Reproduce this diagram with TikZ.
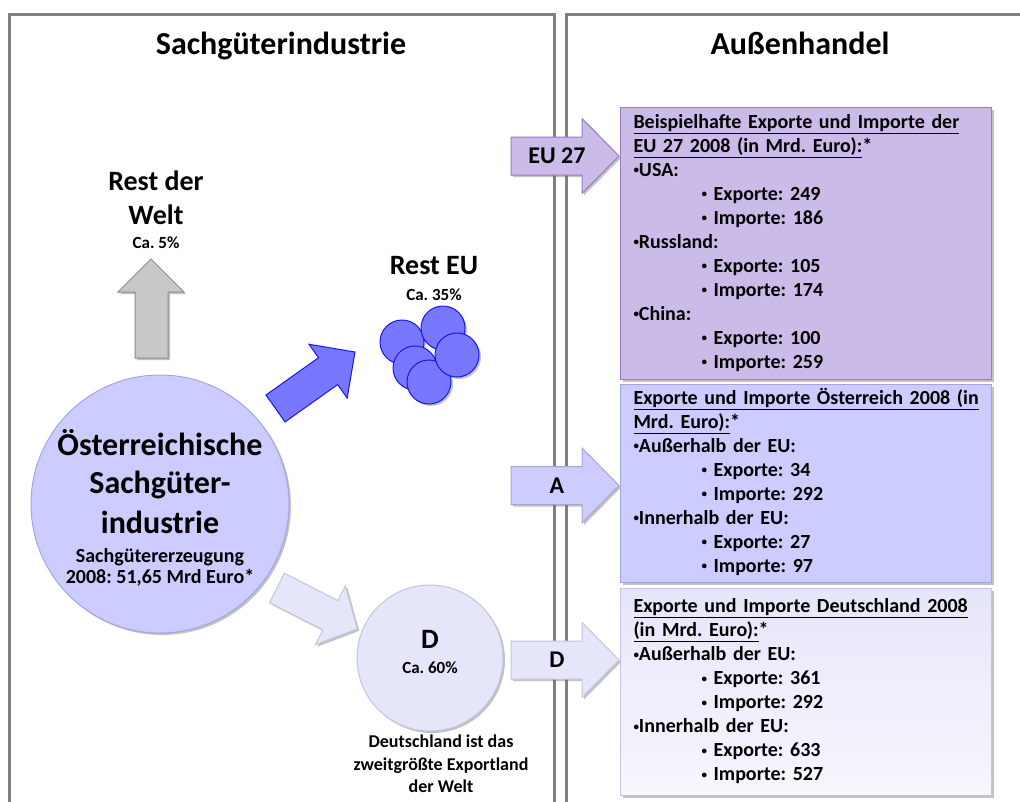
\documentclass[tikz,border=0pt]{standalone}
\usepackage{fontspec}
\usepackage{graphicx}
\setmainfont{Carlito}
\usetikzlibrary{shadows}
\frenchspacing
\definecolor{framegray}{RGB}{128,128,128}
\definecolor{eufill}{RGB}{203,187,232}
\definecolor{eudraw}{RGB}{150,124,194}
\definecolor{atfill}{RGB}{204,204,255}
\definecolor{atdraw}{RGB}{165,165,222}
\definecolor{defill}{RGB}{230,230,250}
\definecolor{dedraw}{RGB}{196,196,222}
\definecolor{restfill}{RGB}{119,119,255}
\definecolor{restdraw}{RGB}{24,24,235}
\definecolor{weltfill}{RGB}{200,200,200}
\definecolor{weltdraw}{RGB}{140,140,140}
\newcommand{\bul}{\raisebox{0.13em}{\scalebox{0.55}{\textbullet}}}
\newcommand{\subitm}{\hspace*{68pt}\bul\ }
\tikzset{
  panel/.style={draw=framegray, line width=3pt},
  softshadow/.style={drop shadow={shadow xshift=2pt, shadow yshift=-2pt, opacity=.4, fill=black!60}},
  headtxt/.style={anchor=base, font=\fontsize{32}{38}\selectfont\bfseries},
  bigtxt/.style={anchor=base, font=\fontsize{32}{38}\selectfont\bfseries},
  midtxt/.style={anchor=base, font=\fontsize{28}{34}\selectfont\bfseries},
  pcttxt/.style={anchor=base, font=\fontsize{17}{20}\selectfont\bfseries},
  subtxt/.style={anchor=base, font=\fontsize{20}{24}\selectfont\bfseries},
  notetxt/.style={anchor=base, font=\fontsize{18}{23}\selectfont\bfseries},
  arrlbl/.style={font=\fontsize{24}{28}\selectfont\bfseries},
  infobox/.style={rectangle, anchor=north west, line width=1pt, inner xsep=13pt, inner ysep=0pt,
    text width=345pt, align=left, font=\fontsize{20}{24}\selectfont\bfseries, softshadow},
  dot/.style={circle, fill=restfill, draw=restdraw, line width=1pt, minimum size=44pt, inner sep=0pt}
}
\begin{document}
\begin{tikzpicture}[x=1pt, y=-1pt]
\useasboundingbox (0,0) rectangle (1020,801);
% panels
\draw[panel] (9,810) -- (9,14) -- (554,14) -- (554,810);
\draw[panel] (566,810) -- (566,14) -- (1030,14);
\node[headtxt] (hsach) at (281,54) {Sachgüterindustrie};
\node[headtxt] (hauss) at (800,54) {Außenhandel};

% Rest der Welt
\node[midtxt] (rdw1) at (156,190) {Rest der};
\node[midtxt] (rdw2) at (156,224) {Welt};
\node[pcttxt] (rdw3) at (156,248) {Ca. 5\%};
\draw[fill=weltfill, draw=weltdraw, line width=1pt, softshadow]
  (135,358) -- (135,292) -- (118,292) -- (151,259) -- (184,292) -- (168,292) -- (168,358) -- cycle;

% main circle
\node[circle, fill=atfill, draw=atdraw, line width=1pt, minimum size=258pt, softshadow] (aut) at (160,504) {};
\node[bigtxt] (aut1) at (160,455) {Österreichische};
\node[bigtxt] (aut2) at (160,493) {Sachgüter-};
\node[bigtxt] (aut3) at (160,533) {industrie};
\node[subtxt] (aut4) at (160,562) {Sachgütererzeugung};
\node[subtxt] (aut5) at (160,583) {2008: 51,65 Mrd Euro*};

% Rest EU
\begin{scope}[shift={(275.5,408.5)}, rotate=35.4]
\draw[fill=restfill, draw=restdraw, line width=1pt]
  (0,-16.5) -- (64.5,-16.5) -- (64.5,-33) -- (97.5,0) -- (64.5,33) -- (64.5,16.5) -- (0,16.5) -- cycle;
\end{scope}
\node[midtxt] (reu1) at (434,274) {Rest EU};
\node[pcttxt] (reu2) at (434,300) {Ca. 35\%};
\node[dot, softshadow] (c1) at (402,342) {};
\node[dot, softshadow] (c2) at (443,328) {};
\node[dot, softshadow] (c4) at (415,368) {};
\node[dot, softshadow] (c5) at (429,382) {};
\node[dot, softshadow] (c3) at (457,355) {};

% Deutschland
\begin{scope}[shift={(277,588)}, rotate=-27]
\draw[fill=defill, draw=dedraw, line width=1pt, softshadow]
  (0,-16.5) -- (60,-16.5) -- (60,-33) -- (90,0) -- (60,33) -- (60,16.5) -- (0,16.5) -- cycle;
\end{scope}
\node[circle, fill=defill, draw=dedraw, line width=1pt, minimum size=146pt, softshadow] (de) at (430,658) {};
\node[midtxt] (de1) at (430,648) {D};
\node[pcttxt] (de2) at (430,673) {Ca. 60\%};
\node[notetxt] (den1) at (441,747) {Deutschland ist das};
\node[notetxt] (den2) at (441,770) {zweitgrößte Exportland};
\node[notetxt] (den3) at (441,792) {der Welt};

% arrows into the trade boxes
\draw[fill=eufill, draw=eudraw, line width=1pt, softshadow]
  (511,137) -- (582,137) -- (582,118.5) -- (619,156) -- (582,193.5) -- (582,175) -- (511,175) -- cycle;
\node[arrlbl] (aeu) at (557,156) {EU 27};
\draw[fill=atfill, draw=atdraw, line width=1pt, softshadow]
  (511,466.5) -- (582,466.5) -- (582,448) -- (619,485.5) -- (582,523) -- (582,504.5) -- (511,504.5) -- cycle;
\node[arrlbl] (aat) at (557,485.5) {A};
\draw[fill=defill, draw=dedraw, line width=1pt, softshadow]
  (511,641) -- (582,641) -- (582,622.5) -- (619,660) -- (582,697.5) -- (582,679) -- (511,679) -- cycle;
\node[arrlbl] (ade) at (557,660) {D};

% trade boxes
\node[infobox, fill=eufill, draw=eudraw, minimum height=272pt] (boxeu) at (620,107) {%
\strut\underline{Beispielhafte Exporte und Importe der}\\
\underline{EU 27 2008 (in Mrd. Euro):}*\\
\bul USA:\\
\subitm Exporte: 249\\
\subitm Importe: 186\\
\bul Russland:\\
\subitm Exporte: 105\\
\subitm Importe: 174\\
\bul China:\\
\subitm Exporte: 100\\
\subitm Importe: 259\strut};
\node[infobox, fill=atfill, draw=atdraw, minimum height=198pt] (boxat) at (620,384) {%
\strut\underline{Exporte und Importe Österreich 2008 (in}\\
\underline{Mrd. Euro):}*\\
\bul Außerhalb der EU:\\
\subitm Exporte: 34\\
\subitm Importe: 292\\
\bul Innerhalb der EU:\\
\subitm Exporte: 27\\
\subitm Importe: 97\strut};
\node[infobox, top color=defill, bottom color=defill!35!white, draw=dedraw, minimum height=207pt] (boxde) at (620,588) {%
\strut\underline{Exporte und Importe Deutschland 2008}\\
\underline{(in Mrd. Euro):}*\\
\bul Außerhalb der EU:\\
\subitm Exporte: 361\\
\subitm Importe: 292\\
\bul Innerhalb der EU:\\
\subitm Exporte: 633\\
\subitm Importe: 527\strut};
\end{tikzpicture}
\end{document}
